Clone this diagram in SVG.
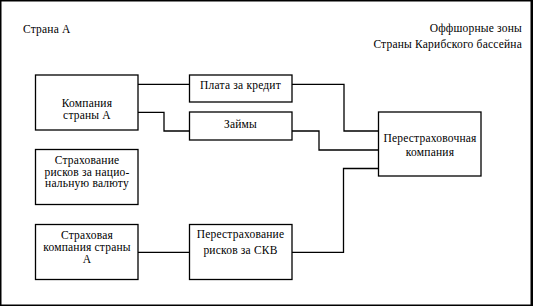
<svg xmlns="http://www.w3.org/2000/svg" width="533" height="308" viewBox="0 0 533 308">
<style>
.box{fill:#fff;stroke:#000;stroke-width:1.3}
.ln{fill:none;stroke:#000;stroke-width:1.3}
text{font-family:"Liberation Serif","Times New Roman",serif;font-size:11.5px;letter-spacing:0.2px;fill:#000}
.c{text-anchor:middle}
.r{text-anchor:end}
</style>
<rect x="0" y="0" width="533" height="308" fill="#fff"/>
<rect x="0.75" y="0.75" width="530.5" height="304.5" fill="none" stroke="#000" stroke-width="1.5"/>
<line x1="532" y1="0" x2="532" y2="306" stroke="#000" stroke-width="2"/>
<text x="23" y="33">Страна А</text>
<text class="r" x="522" y="31.5">Оффшорные зоны</text>
<text class="r" x="522" y="47.5">Страны Карибского бассейна</text>
<g id="connectors">
<polyline class="ln" points="138,84.3 189,84.3"/>
<polyline class="ln" points="292,84.3 344,84.3 344,131 378,131"/>
<polyline class="ln" points="138,112.3 164,112.3 164,131 189,131"/>
<polyline class="ln" points="292,131 319,131 319,150 378,150"/>
<polyline class="ln" points="138,252.3 189,252.3"/>
<polyline class="ln" points="292,252.3 343.5,252.3 343.5,168.5 378,168.5"/>
</g>
<g id="company-a">
<rect class="box" x="35.5" y="75" width="102.5" height="55"/>
<text class="c" x="87" y="106.5">Компания</text>
<text class="c" x="87" y="119">страны А</text>
</g>
<g id="payment">
<rect class="box" x="189.5" y="75" width="102.5" height="27"/>
<text class="c" x="240.5" y="88.5">Плата за кредит</text>
</g>
<g id="loans">
<rect class="box" x="189.5" y="112" width="102.5" height="28"/>
<text class="c" x="240.5" y="127.5">Займы</text>
</g>
<g id="reinsurer">
<rect class="box" x="378.5" y="112" width="102.5" height="64"/>
<text class="c" x="430" y="141.5">Перестраховочная</text>
<text class="c" x="430" y="155.5">компания</text>
</g>
<g id="national-insurance">
<rect class="box" x="35.5" y="149.5" width="102.5" height="55"/>
<text class="c" x="87" y="163.5">Страхование</text>
<text class="c" x="87" y="175.5">рисков за нацио-</text>
<text class="c" x="87" y="187">нальную валюту</text>
</g>
<g id="insurance-company">
<rect class="box" x="35.5" y="224.5" width="102.5" height="55"/>
<text class="c" x="87" y="238.5">Страховая</text>
<text class="c" x="87" y="250.5">компания страны</text>
<text class="c" x="87" y="262.5">А</text>
</g>
<g id="reinsurance-skv">
<rect class="box" x="189.5" y="224.5" width="102.5" height="55"/>
<text class="c" x="240.5" y="238">Перестрахование</text>
<text class="c" x="240.5" y="253.5">рисков за СКВ</text>
</g>
</svg>
